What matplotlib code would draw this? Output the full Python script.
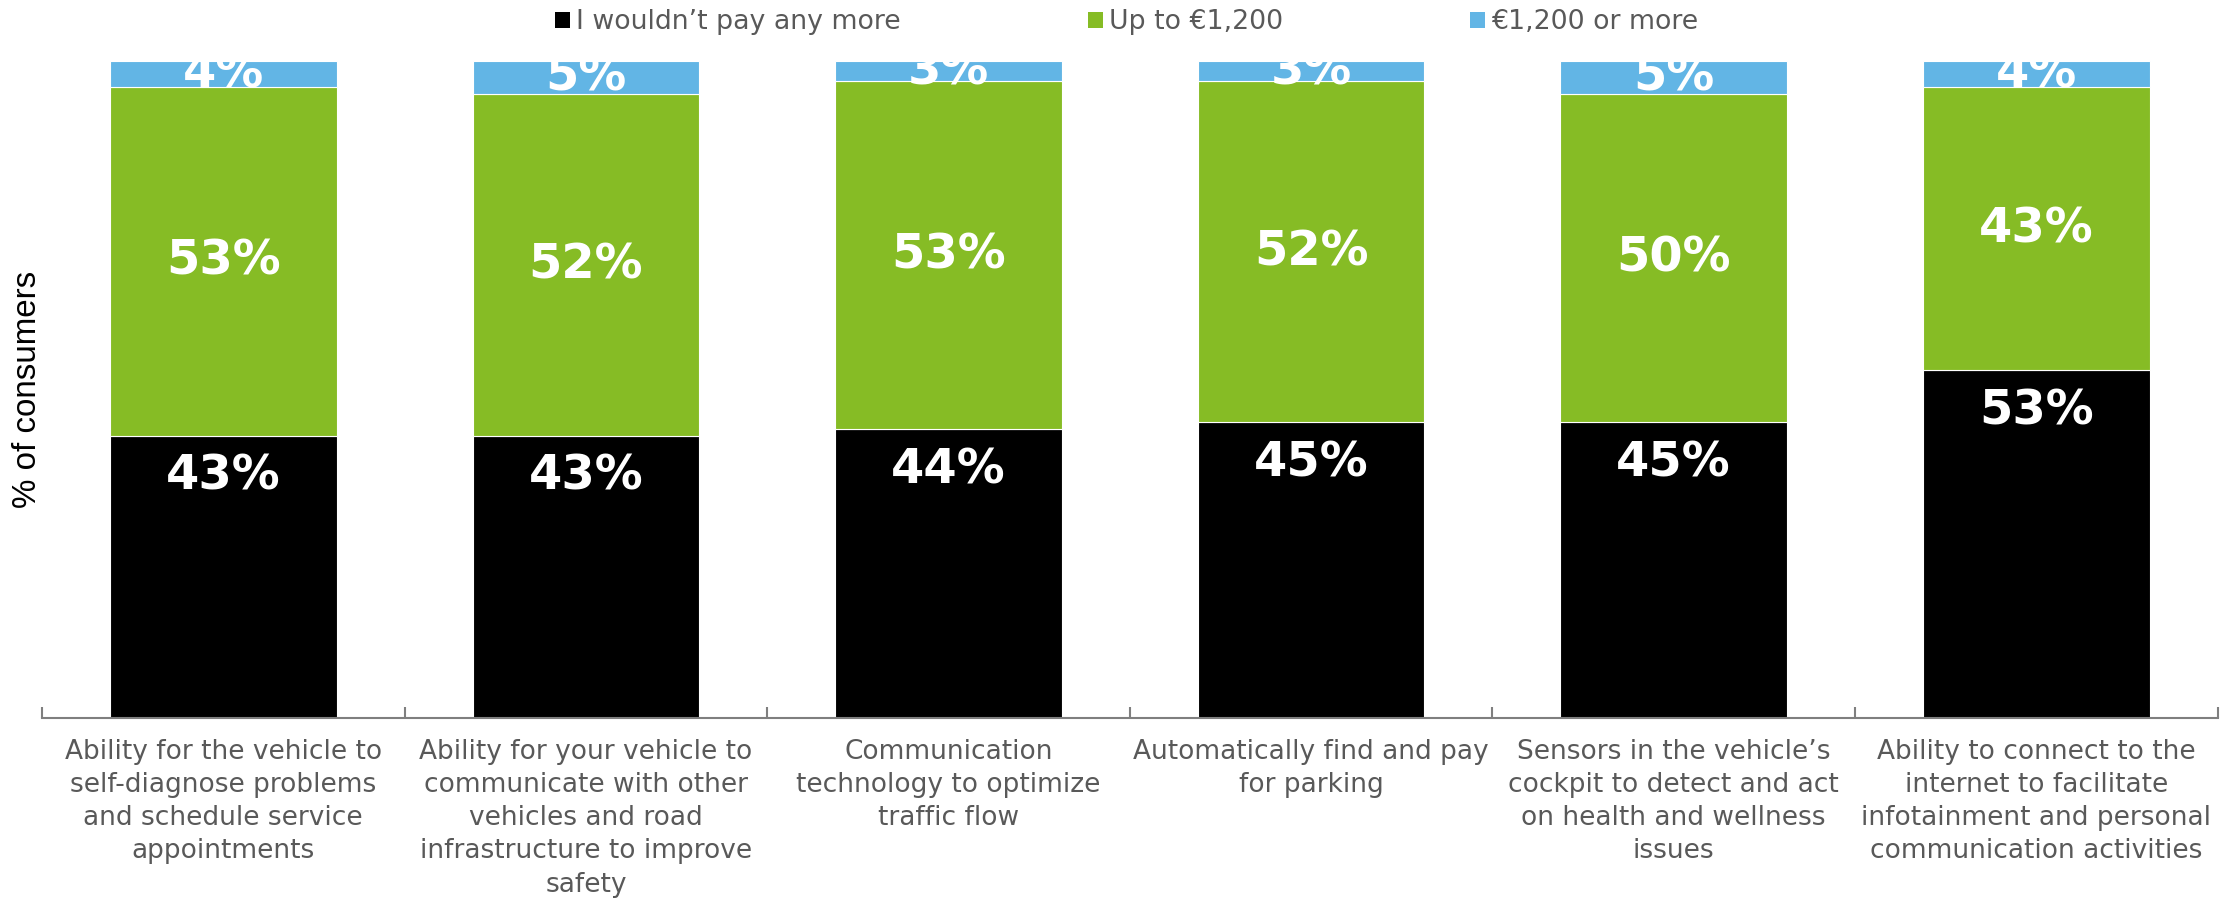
import matplotlib
matplotlib.use("Agg")
import matplotlib.pyplot as plt
from matplotlib.patches import Patch
import numpy as np

categories = [
    "Ability for the vehicle to\nself-diagnose problems\nand schedule service\nappointments",
    "Ability for your vehicle to\ncommunicate with other\nvehicles and road\ninfrastructure to improve\nsafety",
    "Communication\ntechnology to optimize\ntraffic flow",
    "Automatically find and pay\nfor parking",
    "Sensors in the vehicle\u2019s\ncockpit to detect and act\non health and wellness\nissues",
    "Ability to connect to the\ninternet to facilitate\ninfotainment and personal\ncommunication activities",
]
no_more = [43, 43, 44, 45, 45, 53]
up_to = [53, 52, 53, 52, 50, 43]
more = [4, 5, 3, 3, 5, 4]
series_names = ["I wouldn\u2019t pay any more", "Up to \u20ac1,200", "\u20ac1,200 or more"]
colors = ["#000000", "#86BC25", "#62B5E5"]
grey = "#595959"

fig = plt.figure(figsize=(22.22, 8.98), dpi=100)
ax = fig.add_axes([0.0189, 0.2004, 0.9791, 0.7316])

x = np.arange(len(categories))
w = 0.625
no_more_a = np.array(no_more, float)
up_to_a = np.array(up_to, float)
more_a = np.array(more, float)

ax.bar(x, no_more_a, w, color=colors[0], edgecolor="white", linewidth=0.8)
ax.bar(x, up_to_a, w, bottom=no_more_a, color=colors[1], edgecolor="white", linewidth=0.8)
ax.bar(x, more_a, w, bottom=no_more_a + up_to_a, color=colors[2], edgecolor="white", linewidth=0.8)

lab_kw = dict(ha="center", va="center", color="white", fontsize=34.5, fontweight="bold",
              family="DejaVu Sans")
for i in range(len(categories)):
    ax.text(x[i], no_more_a[i] - 6.2, f"{no_more[i]}%", **lab_kw)
    ax.text(x[i], no_more_a[i] + up_to_a[i] / 2, f"{up_to[i]}%", **lab_kw)
    ax.text(x[i], no_more_a[i] + up_to_a[i] + more_a[i] / 2, f"{more[i]}%", **lab_kw)

ax.set_xlim(-0.5, len(categories) - 0.5)
ax.set_ylim(0, 100)
for s in ["top", "right", "left"]:
    ax.spines[s].set_visible(False)
ax.spines["bottom"].set_color("#7f7f7f")
ax.spines["bottom"].set_linewidth(1.5)
ax.set_yticks([])

ax.set_xticks(x)
ax.set_xticklabels(categories, fontsize=19, color=grey, family="DejaVu Sans", linespacing=1.36, va="top")
ax.tick_params(axis="x", which="major", length=0, pad=15)
ax.set_xticks(np.arange(-0.5, len(categories), 1.0), minor=True)
ax.tick_params(axis="x", which="minor", direction="in", length=8, width=1.5, color="#7f7f7f")

ax.set_ylabel("% of consumers", fontsize=23.9, family="Liberation Sans", color="black", labelpad=-1)

handles = [Patch(facecolor=c, edgecolor="none") for c in colors]
fig.legend(handles, series_names, loc="center", bbox_to_anchor=(0.507, 0.975), ncol=3,
           frameon=False, prop={"family": "DejaVu Sans", "size": 19.3}, labelcolor=grey,
           handlelength=0.56, handleheight=0.56, handletextpad=0.22, columnspacing=7.0,
           borderpad=0.1)

fig.savefig("out.png", dpi=100)
